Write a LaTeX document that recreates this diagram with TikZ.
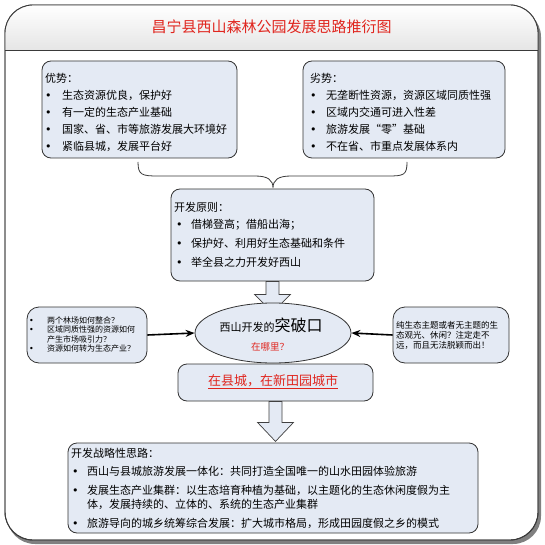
\documentclass[tikz,border=0pt]{standalone}
\usepackage{fontspec}
\setmainfont{Noto Sans CJK SC}
\newfontfamily\symfont{DejaVu Sans}
\usetikzlibrary{arrows.meta}
\usetikzlibrary{shapes.geometric}

\definecolor{boxblue}{HTML}{E4EAF4}
\definecolor{titlered}{HTML}{E0251E}
\definecolor{framegray}{HTML}{3A3A3A}

\newcommand{\dotitem}[2][16pt]{\makebox[#1][l]{{\symfont •}}#2}

\tikzset{
  panel/.style={draw=black!80,fill=boxblue,rounded corners=9pt,line width=0.8pt,inner sep=0pt},
  line/.style={font=\fontsize{11}{13}\selectfont,text=black,anchor=west,inner sep=0pt},
  smalltext/.style={font=\fontsize{8}{9.5}\selectfont,text=black,anchor=west,inner sep=0pt},
  blockarrow/.style={draw=black!75,fill=boxblue,line width=0.7pt,line join=miter},
  pointer/.style={line width=1.6pt,-{Stealth[length=9pt,width=7pt]}},
}

\begin{document}
\begin{tikzpicture}[x=1pt,y=-1pt]
\useasboundingbox (0,0) rectangle (545,545);
% frame and title band
\fill[black!50,rounded corners=28pt] (7,9) rectangle (541,544);
\draw[framegray,fill=white,rounded corners=28pt,line width=0.9pt] (5,5) rectangle (538,540);
\begin{scope}
\clip[rounded corners=28pt] (5,5) rectangle (538,540);
\shade[top color=white,bottom color=black!10] (5,5) rectangle (538,50);
\end{scope}
\draw[framegray,rounded corners=28pt,line width=0.9pt] (5,5) rectangle (538,540);
\draw[framegray,line width=0.9pt] (5,50) -- (538,50);
\node[font=\fontsize{15}{15}\selectfont,text=titlered] (title) at (271.5,27) {昌宁县西山森林公园发展思路推衍图};

% strengths / weaknesses
\node[panel,minimum width=195pt,minimum height=97pt] (strengths) at (139.5,109.5) {};
\node[line] (s0) at (45,78) {优势：};
\foreach \t [count=\i] in {生态资源优良，保护好,有一定的生态产业基础,国家、省、市等旅游发展大环境好,紧临县城，发展平台好}
  \node[line] (s\i) at (45,78+\i*17) {\dotitem[17pt]{\t}};

\node[panel,minimum width=202pt,minimum height=97pt] (weaknesses) at (404,109.5) {};
\node[line] (w0) at (310,78) {劣势：};
\foreach \t [count=\i] in {无垄断性资源，资源区域同质性强,区域内交通可进入性差,旅游发展“零”基础,不在省、市重点发展体系内}
  \node[line] (w\i) at (310,78+\i*17) {\dotitem{\t}};

% brace
\draw[framegray,line width=0.8pt] (138,162) .. controls (138,175) and (142,176) .. (158,176) -- (255,176)
  .. controls (268,176) and (273,180) .. (273,188) .. controls (273,180) and (278,176) .. (291,176)
  -- (388,176) .. controls (404,176) and (407,175) .. (407,162);

% principles
\node[panel,minimum width=203pt,minimum height=92pt] (principles) at (272.5,235) {};
\node[line] (p0) at (174,207) {开发原则：};
\node[line] (p1) at (176,225) {\dotitem[15pt]{借梯登高；借船出海；}};
\node[line] (p2) at (176,243.5) {\dotitem[15pt]{保护好、利用好生态基础和条件}};
\node[line] (p3) at (176,262) {\dotitem[15pt]{举全县之力开发好西山}};

\draw[blockarrow] ([xshift=-6.5pt]principles.south) -- ++(0,13) -- ++(-11.5,0) -- ++(18,18) -- ++(18,-18) -- ++(-11.5,0) -- ++(0,-13) -- cycle;

% breakthrough
\node[draw=black!80,fill=boxblue,ellipse,line width=0.8pt,inner sep=0pt,minimum width=156pt,minimum height=60pt] (breakthrough) at (273,333) {};
\node[font=\fontsize{11}{13}\selectfont,text=black] (bt1) at (271,325) {西山开发的{\fontsize{16}{16}\selectfont 突破口}};
\node[font=\fontsize{9.5}{11}\selectfont,text=titlered] (bt2) at (270,347) {在哪里？};

% side boxes
\node[panel,rounded corners=12pt,minimum width=120pt,minimum height=56pt] (questions) at (87,335) {};
\node[smalltext] (q1) at (29,320) {\dotitem[18pt]{两个林场如何整合？}};
\node[smalltext] (q2) at (29,329.5) {\dotitem[18pt]{区域同质性强的资源如何}};
\node[smalltext] (q3) at (47,339) {产生市场吸引力？};
\node[smalltext] (q4) at (29,348.5) {\dotitem[18pt]{资源如何转为生态产业？}};

\node[panel,rounded corners=12pt,minimum width=116pt,minimum height=56pt] (warning) at (451,335) {};
\node[smalltext,font=\fontsize{8.5}{10}\selectfont] (r1) at (396,325) {纯生态主题或者无主题的生};
\node[smalltext,font=\fontsize{8.5}{10}\selectfont] (r2) at (396,335) {态观光、休闲？注定走不};
\node[smalltext,font=\fontsize{8.5}{10}\selectfont] (r3) at (396,345) {远，而且无法脱颖而出！};

\draw[pointer] (questions.east) -- (breakthrough.west);
\draw[pointer] (warning.west) -- (breakthrough.east);

% answer
\node[panel,minimum width=195pt,minimum height=37pt] (answer) at (275.5,382.5) {};
\node[font=\fontsize{13}{15}\selectfont,text=titlered] (ans) at (273,382) {\underline{在县城，在新田园城市}};

\draw[blockarrow] ([xshift=-6.5pt]answer.south) -- ++(0,21) -- ++(-11.5,0) -- ++(18,19) -- ++(18,-19) -- ++(-11.5,0) -- ++(0,-21) -- cycle;

% strategy
\node[panel,minimum width=410pt,minimum height=90pt] (strategy) at (273,488) {};
\node[line] (g0) at (71,453) {开发战略性思路：};
\node[line] (g1) at (72,471) {\dotitem[15pt]{西山与县城旅游发展一体化：共同打造全国唯一的山水田园体验旅游}};
\node[line] (g2) at (72,490) {\dotitem[15pt]{发展生态产业集群：以生态培育种植为基础，以主题化的生态休闲度假为主}};
\node[line] (g3) at (87,504) {体，发展持续的、立体的、系统的生态产业集群};
\node[line] (g4) at (72,523) {\dotitem[15pt]{旅游导向的城乡统筹综合发展：扩大城市格局，形成田园度假之乡的模式}};
\end{tikzpicture}
\end{document}
